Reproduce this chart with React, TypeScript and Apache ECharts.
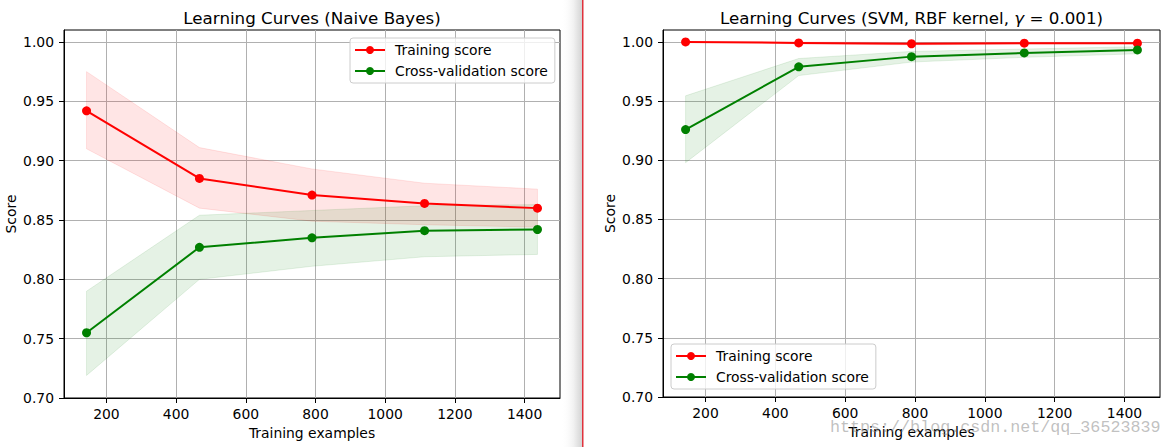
import React, { useEffect, useRef } from "react";
import * as echarts from "echarts";

const trainSizes = [143, 467, 790, 1113, 1437];
const xTicks = [200, 400, 600, 800, 1000, 1200, 1400];
const yTicks = [0.7, 0.75, 0.8, 0.85, 0.9, 0.95, 1.0];

const nbTrainMean = [0.942, 0.885, 0.871, 0.864, 0.86];
const nbTrainUpper = [0.975, 0.911, 0.893, 0.881, 0.876];
const nbTrainLower = [0.91, 0.86, 0.849, 0.846, 0.844];
const nbCvMean = [0.755, 0.827, 0.835, 0.841, 0.842];
const nbCvUpper = [0.79, 0.854, 0.858, 0.862, 0.863];
const nbCvLower = [0.719, 0.8, 0.811, 0.819, 0.821];

const svmTrainMean = [1.0, 0.9992, 0.9985, 0.999, 0.999];
const svmTrainUpper = [1.0, 1.0, 0.9995, 0.9997, 0.9997];
const svmTrainLower = [1.0, 0.9984, 0.9975, 0.9983, 0.9983];
const svmCvMean = [0.926, 0.979, 0.9876, 0.9907, 0.9933];
const svmCvUpper = [0.9545, 0.986, 0.992, 0.994, 0.996];
const svmCvLower = [0.898, 0.9716, 0.983, 0.987, 0.99];

const FONT = "DejaVu Sans";
const FS = 13.9;
const TITLE_FS = 16.7;
const RED = "#ff0000";
const GREEN = "#008000";
const RED_BAND = "rgba(255,0,0,0.1)";
const GREEN_BAND = "rgba(0,128,0,0.1)";

function xAxis(gridIndex: number) {
  return {
    type: "value",
    gridIndex,
    min: 78.3,
    max: 1501.7,
    name: "Training examples",
    nameLocation: "middle",
    nameGap: 27,
    nameTextStyle: { fontSize: FS, color: "#000", fontFamily: FONT },
    axisLine: { show: true, onZero: false, lineStyle: { color: "#000", width: 1 } },
    axisTick: { show: true, length: 5, customValues: xTicks, lineStyle: { color: "#000", width: 1 } },
    axisLabel: {
      color: "#000",
      fontSize: FS,
      fontFamily: FONT,
      margin: 9,
      customValues: xTicks,
      formatter: (v: number) => String(Math.round(v)),
    },
    splitLine: { show: true, lineStyle: { color: "#b0b0b0", width: 1 } },
  };
}

function yAxis(gridIndex: number) {
  return {
    type: "value",
    gridIndex,
    min: 0.7,
    max: 1.0101,
    name: "Score",
    nameLocation: "middle",
    nameGap: 46,
    nameTextStyle: { fontSize: FS, color: "#000", fontFamily: FONT },
    axisLine: { show: true, onZero: false, lineStyle: { color: "#000", width: 1 } },
    axisTick: { show: true, length: 5, customValues: yTicks, lineStyle: { color: "#000", width: 1 } },
    axisLabel: {
      color: "#000",
      fontSize: FS,
      fontFamily: FONT,
      margin: 10,
      customValues: yTicks,
      formatter: (v: number) => v.toFixed(2),
    },
    splitLine: { show: true, lineStyle: { color: "#b0b0b0", width: 1 } },
  };
}

function band(lower: number[], upper: number[], color: string, idx: number) {
  return {
    type: "custom",
    xAxisIndex: idx,
    yAxisIndex: idx,
    silent: true,
    z: 1,
    clip: true,
    data: trainSizes.map((x, i) => [x, lower[i], upper[i]]),
    encode: { x: 0, y: [1, 2] },
    renderItem: (params: any, api: any) => {
      if (params.dataIndex !== 0) return null;
      const top = trainSizes.map((x, i) => api.coord([x, upper[i]]));
      const bot = trainSizes.map((x, i) => api.coord([x, lower[i]])).reverse();
      return {
        type: "polygon",
        shape: { points: top.concat(bot) },
        style: { fill: color, stroke: color, lineWidth: 1 },
      };
    },
  };
}

function line(name: string, values: number[], color: string, idx: number) {
  return {
    type: "line",
    name,
    xAxisIndex: idx,
    yAxisIndex: idx,
    data: trainSizes.map((x, i) => [x, values[i]]),
    symbol: "circle",
    symbolSize: 9,
    showSymbol: true,
    itemStyle: { color },
    lineStyle: { color, width: 2 },
    z: 3,
  };
}

function legend(left: number, top: number) {
  return {
    data: ["Training score", "Cross-validation score"],
    orient: "vertical",
    left,
    top,
    padding: [5, 7, 5, 4],
    itemGap: 7,
    itemWidth: 30,
    itemHeight: 10,
    backgroundColor: "rgba(255,255,255,0.8)",
    borderColor: "#cccccc",
    borderWidth: 1,
    borderRadius: 3,
    selectedMode: false,
    textStyle: { fontSize: FS, color: "#000", fontFamily: FONT, padding: [0, 0, 0, 5] },
  };
}

const option = {
  animation: false,
  backgroundColor: "#ffffff",
  title: [
    {
      text: "Learning Curves (Naive Bayes)",
      left: 312,
      top: 9,
      padding: 0,
      textAlign: "center",
      textStyle: { fontSize: TITLE_FS, fontWeight: "normal", color: "#000", fontFamily: FONT },
    },
    {
      text: "Learning Curves (SVM, RBF kernel, {g|γ}{n| = 0.001})",
      left: 911.5,
      top: 9,
      padding: 0,
      textAlign: "center",
      textStyle: {
        fontSize: TITLE_FS,
        fontWeight: "normal",
        color: "#000",
        fontFamily: FONT,
        rich: {
          g: { fontSize: TITLE_FS, fontStyle: "italic", color: "#000", fontFamily: FONT },
          n: { fontSize: TITLE_FS, color: "#000", fontFamily: FONT },
        },
      },
    },
  ],
  grid: [
    { left: 64, top: 30, width: 496, height: 368, show: true, borderColor: "#000", borderWidth: 1, backgroundColor: "transparent", containLabel: false },
    { left: 663, top: 30, width: 497, height: 367, show: true, borderColor: "#000", borderWidth: 1, backgroundColor: "transparent", containLabel: false },
  ],
  xAxis: [xAxis(0), xAxis(1)],
  yAxis: [yAxis(0), yAxis(1)],
  legend: [legend(350, 38), legend(671, 344)],
  series: [
    band(nbTrainLower, nbTrainUpper, RED_BAND, 0),
    band(nbCvLower, nbCvUpper, GREEN_BAND, 0),
    line("Training score", nbTrainMean, RED, 0),
    line("Cross-validation score", nbCvMean, GREEN, 0),
    band(svmTrainLower, svmTrainUpper, RED_BAND, 1),
    band(svmCvLower, svmCvUpper, GREEN_BAND, 1),
    line("Training score", svmTrainMean, RED, 1),
    line("Cross-validation score", svmCvMean, GREEN, 1),
  ],
  graphic: [
    {
      type: "rect",
      shape: { x: 561, y: 0, width: 21, height: 447 },
      style: {
        fill: new echarts.graphic.LinearGradient(0, 0, 1, 0, [
          { offset: 0, color: "rgba(255,255,255,0)" },
          { offset: 0.6, color: "#f1f1f1" },
          { offset: 1, color: "#d4d4d4" },
        ]),
      },
      z: 50,
      silent: true,
    },
    {
      type: "rect",
      shape: { x: 582, y: 0, width: 1.5, height: 447 },
      style: { fill: "#e0323c" },
      z: 50,
      silent: true,
    },
    {
      type: "text",
      x: 830,
      y: 421,
      style: {
        text: "https://blog.csdn.net/qq_36523839",
        font: '16.7px "Liberation Mono"',
        lineHeight: 12,
        fill: "rgba(140,140,140,0.55)",
      },
      z: 100,
      silent: true,
    },
  ],
};

export default function App() {
  const ref = useRef<HTMLDivElement>(null);
  useEffect(() => {
    const chart = echarts.init(ref.current!, null, { renderer: "svg" });
    chart.setOption(option as any);
    return () => chart.dispose();
  }, []);
  return (
    <div
      ref={ref}
      style={{ position: "absolute", left: 0, top: 0, width: 1171, height: 447, background: "#fff" }}
    />
  );
}
